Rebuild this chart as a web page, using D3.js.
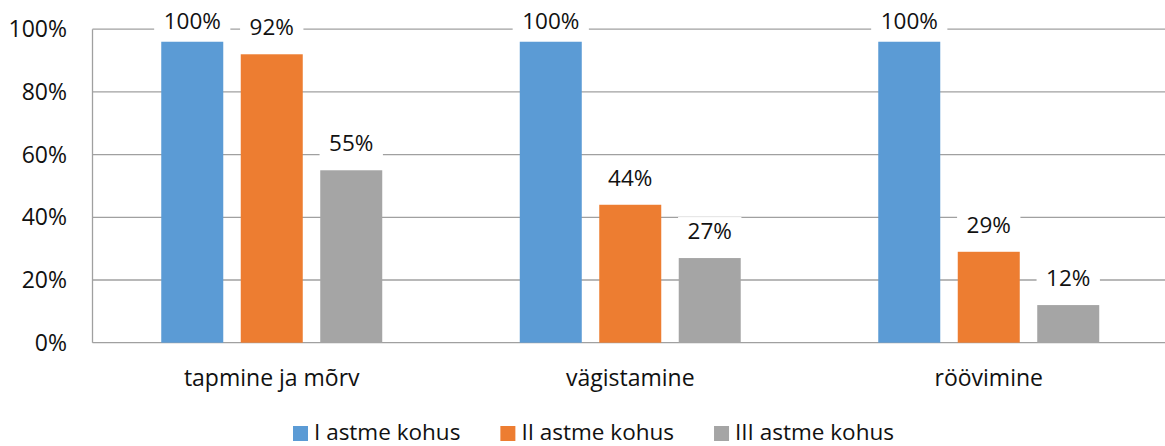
<!DOCTYPE html>
<html>
<head>
<meta charset="utf-8">
<script src="https://cdn.jsdelivr.net/npm/d3@7"></script>
<style>
  body { margin: 0; background: #fff; }
  svg text { font-family: "Open Sans", sans-serif; fill: #111; }
</style>
</head>
<body>
<div id="chart"></div>
<script>
// data
var categories = ["tapmine ja mõrv", "vägistamine", "röövimine"];
var seriesNames = ["I astme kohus", "II astme kohus", "III astme kohus"];
var valuesI = [96, 96, 96];
var valuesII = [92, 44, 29];
var valuesIII = [55, 27, 12];
var labelsI = ["100%", "100%", "100%"];
var labelsII = ["92%", "44%", "29%"];
var labelsIII = ["55%", "27%", "12%"];
var yTicks = [0, 20, 40, 60, 80, 100];
var colors = ["#5B9BD5", "#ED7D31", "#A5A5A5"];

var chartW = 1165, chartH = 446;
var plotL = 92.5, plotR = 1168, plotT = 29.2, plotB = 342.7;

var rows = [];
categories.forEach(function(c, i) {
    rows.push({cat: c, s: 0, v: valuesI[i], label: labelsI[i]});
    rows.push({cat: c, s: 1, v: valuesII[i], label: labelsII[i]});
    rows.push({cat: c, s: 2, v: valuesIII[i], label: labelsIII[i]});
});

var svg = d3.select("#chart").append("svg")
    .attr("width", chartW)
    .attr("height", chartH);

var x = d3.scaleBand().domain(categories).range([plotL, plotR]).padding(0);
var xs = d3.scaleBand().domain([0, 1, 2]).range([0, x.bandwidth()])
    .paddingInner(0.22).paddingOuter(0.865);
var y = d3.scaleLinear().domain([0, 100]).range([plotB, plotT]);

// gridlines
svg.append("g").selectAll("line")
    .data(yTicks)
    .enter().append("line")
    .attr("x1", plotL).attr("x2", plotR)
    .attr("y1", function(d) { return y(d); })
    .attr("y2", function(d) { return y(d); })
    .attr("stroke", "#a0a0a0")
    .attr("stroke-width", 1.3);

// left axis line
svg.append("line")
    .attr("x1", plotL).attr("x2", plotL)
    .attr("y1", y(100)).attr("y2", y(0))
    .attr("stroke", "#a0a0a0")
    .attr("stroke-width", 1.3);

// y tick labels
svg.append("g").selectAll("text")
    .data(yTicks)
    .enter().append("text")
    .attr("x", 67)
    .attr("y", function(d) { return y(d); })
    .attr("dy", "0.35em")
    .attr("text-anchor", "end")
    .style("font-size", "23px")
    .text(function(d) { return d + "%"; });

// bars
svg.append("g").selectAll("rect")
    .data(rows)
    .enter().append("rect")
    .attr("x", function(d) { return x(d.cat) + xs(d.s); })
    .attr("y", function(d) { return y(d.v); })
    .attr("width", xs.bandwidth())
    .attr("height", function(d) { return y(0) - y(d.v); })
    .attr("fill", function(d) { return colors[d.s]; });

// data labels with white boxes
var lab = svg.append("g").selectAll("g")
    .data(rows)
    .enter().append("g")
    .attr("transform", function(d) {
        var cx = x(d.cat) + xs(d.s) + xs.bandwidth() / 2;
        var by = Math.max(y(d.v) - 19, plotT + 0.1);
        return "translate(" + cx + "," + by + ")";
    });

lab.append("rect").attr("fill", "#fff");
lab.append("text")
    .attr("text-anchor", "middle")
    .style("font-size", "22.5px")
    .text(function(d) { return d.label; });
lab.each(function() {
    var g = d3.select(this);
    var w = g.select("text").node().getComputedTextLength() + 19;
    g.select("rect").attr("x", -w / 2).attr("width", w)
        .attr("y", -22).attr("height", 28);
});

// category labels
svg.append("g").selectAll("text")
    .data(categories)
    .enter().append("text")
    .attr("x", function(d) { return x(d) + x.bandwidth() / 2; })
    .attr("y", 386)
    .attr("text-anchor", "middle")
    .style("font-size", "23px")
    .text(function(d) { return d; });

// legend
var legend = svg.append("g").attr("transform", "translate(293,426)");
var lx = 0;
seriesNames.forEach(function(name, i) {
    var item = legend.append("g").attr("transform", "translate(" + lx + ",0)");
    item.append("rect")
        .attr("width", 15).attr("height", 15)
        .attr("fill", colors[i]);
    var t = item.append("text")
        .attr("x", 21)
        .attr("y", 13.5)
        .style("font-size", "22.5px")
        .text(name);
    lx += 21 + t.node().getComputedTextLength() + 40;
});
</script>
</body>
</html>
